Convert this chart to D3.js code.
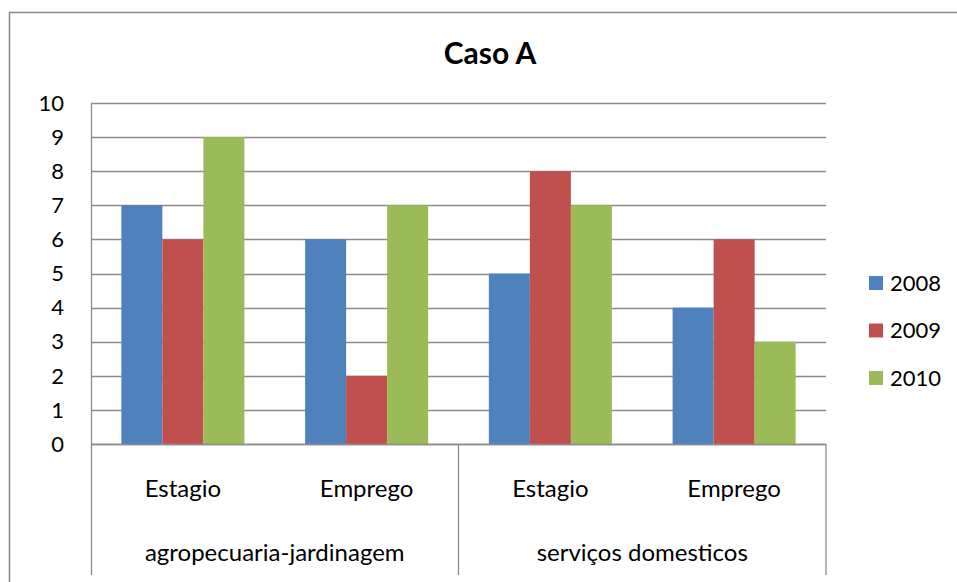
<!DOCTYPE html>
<html>
<head>
<meta charset="utf-8">
<script src="https://cdn.jsdelivr.net/npm/d3@7"></script>
<style>
  body { margin: 0; background: #fff; }
  svg { display: block; font-family: Lato, "Open Sans", sans-serif; }
</style>
</head>
<body>
<svg width="957" height="582"></svg>
<script>
const groups = ["agropecuaria-jardinagem", "serviços domesticos"];
const subCategories = ["Estagio", "Emprego"];
const years = ["2008", "2009", "2010"];
const values2008 = [7, 6, 5, 4];
const values2009 = [6, 2, 8, 6];
const values2010 = [9, 7, 7, 3];
const yTicks = [0, 1, 2, 3, 4, 5, 6, 7, 8, 9, 10];
const colors = ["#4f81bd", "#c0504d", "#9bbb59"];

const series = [values2008, values2009, values2010];
const cats = [];
groups.forEach((g, gi) => subCategories.forEach((s, si) => cats.push({ id: gi + "-" + si, group: g, label: s })));

let svg = d3.select("svg");
let margin = { top: 103, left: 91 }, width = 826 - 91, height = 444 - 103;

// chart border
svg.append("rect").attr("x", 9.5).attr("y", 12.5).attr("width", 1000).attr("height", 1000)
  .attr("fill", "none").attr("stroke", "#888").attr("stroke-width", 1.5);

svg.append("text").attr("x", 490).attr("y", 64).attr("text-anchor", "middle")
  .attr("font-size", 30).attr("font-weight", "bold").text("Caso A");

let x = d3.scaleBand().domain(cats.map(d => d.id)).range([0, width]);
let x1 = d3.scaleBand().domain(years).range([0, x.bandwidth()]).paddingOuter(0.74).paddingInner(0);
let y = d3.scaleLinear().domain([0, 10]).range([height, 0]);

let g = svg.append("g").attr("transform", "translate(" + margin.left + "," + margin.top + ")");

// gridlines
g.append("g").selectAll("line").data(yTicks).enter().append("line")
  .attr("x1", 0).attr("x2", width)
  .attr("y1", d => Math.round(y(d)) + 0.5).attr("y2", d => Math.round(y(d)) + 0.5)
  .attr("stroke", "#8c8c8c").attr("stroke-width", 1.3);

// bars
g.selectAll(".series").data(series).enter().append("g")
  .attr("fill", (d, i) => colors[i])
  .selectAll("rect")
  .data((d, i) => d.map((v, j) => ({ v: v, cat: cats[j].id, year: years[i] })))
  .enter().append("rect")
  .attr("x", d => x(d.cat) + x1(d.year))
  .attr("y", d => y(d.v))
  .attr("width", x1.bandwidth())
  .attr("height", d => y(0) - y(d.v));

// y axis labels
g.append("g").selectAll("text").data(yTicks).enter().append("text")
  .attr("x", -27).attr("y", d => y(d)).attr("dy", "0.35em")
  .attr("text-anchor", "end").attr("font-size", 22).text(d => d);

// axes lines
let axisColor = "#8c8c8c";
g.append("line").attr("x1", 0.5).attr("x2", 0.5).attr("y1", 0).attr("y2", 472)
  .attr("stroke", axisColor).attr("stroke-width", 1.3);
g.append("line").attr("x1", 0).attr("x2", width).attr("y1", height + 0.5).attr("y2", height + 0.5)
  .attr("stroke", axisColor).attr("stroke-width", 1.3);
groups.forEach((gr, gi) => {
  let xe = x(gi + "-1") + x.bandwidth();
  g.append("line").attr("x1", xe).attr("x2", xe).attr("y1", height).attr("y2", 472)
    .attr("stroke", axisColor).attr("stroke-width", 1.3);
});

// category labels
g.append("g").selectAll("text").data(cats).enter().append("text")
  .attr("x", d => x(d.id) + x.bandwidth() / 2).attr("y", height + 45)
  .attr("dy", "0.35em").attr("text-anchor", "middle").attr("font-size", 24)
  .text(d => d.label);

g.append("g").selectAll("text").data(groups).enter().append("text")
  .attr("x", (d, i) => x(i + "-0") + x.bandwidth()).attr("y", height + 109)
  .attr("dy", "0.35em").attr("text-anchor", "middle").attr("font-size", 24)
  .text(d => d);

// legend
let legend = svg.append("g").selectAll("g").data(years).enter().append("g")
  .attr("transform", (d, i) => "translate(869," + (283 + i * 47.5) + ")");
legend.append("rect").attr("x", 0).attr("y", -7).attr("width", 14).attr("height", 14)
  .attr("fill", (d, i) => colors[i]);
legend.append("text").attr("x", 21).attr("y", 0).attr("dy", "0.35em")
  .attr("font-size", 22).text(d => d);
</script>
</body>
</html>
